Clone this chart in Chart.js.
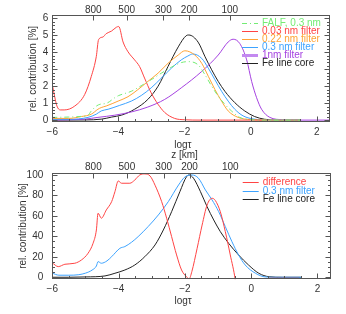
<!DOCTYPE html>
<html>
<head>
<meta charset="utf-8">
<script src="https://cdn.jsdelivr.net/npm/chart.js@4"></script>
<style>
  body { margin: 0; background: #fff; width: 346px; height: 314px; position: relative; overflow: hidden; }
  canvas { position: absolute; left: 0; }
  #top { top: 0; }
  #bot { top: 150px; }
</style>
</head>
<body>
<canvas id="top" width="346" height="152"></canvas>
<canvas id="bot" width="346" height="164"></canvas>
<script>
// axes: log tau along the bottom, height z [km] along the top
const xTicks = [-6, -4, -2, 0, 2];
const zLabels = ['800', '500', '300', '200', '100'];
const zPos = [-4.76, -3.75, -2.64, -1.86, -0.63];
const yTicksTop = [0, 1, 2, 3, 4, 5, 6];
const yTicksBot = [0, 20, 40, 60, 80, 100];

// upper panel, rel. contribution [%]
const falfX = [-6, -5.5, -5.12, -4.92, -4.82, -4.65, -4.56, -4.35, -4.11, -3.99, -3.61, -3.31, -3.01, -2.7, -2.4, -2.1, -1.9, -1.59, -1.38, -1.18, -0.98, -0.78, -0.58, -0.33, 0.03, 0.5, 1.5];
const falfY = [0.16, 0.18, 0.22, 0.29, 0.54, 0.85, 0.93, 1.0, 1.32, 1.45, 1.7, 2.03, 2.38, 2.77, 3.12, 3.39, 3.45, 3.26, 2.67, 2.0, 1.41, 0.93, 0.54, 0.16, 0.02, 0, 0];
const narrowX = [-6, -5.93, -5.86, -5.76, -5.64, -5.32, -5.02, -4.82, -4.67, -4.6, -4.47, -4.37, -4.21, -4.06, -3.99, -3.86, -3.71, -3.51, -3.36, -3.21, -3.01, -2.8, -2.6, -2.3, -2.0, -1.5, -1.0, 0.0, 0.5];
const narrowY = [2.1, 1.4, 0.83, 0.6, 0.6, 0.83, 1.51, 2.58, 3.74, 4.75, 4.9, 5.1, 5.25, 5.48, 5.52, 4.61, 4.03, 3.55, 3.16, 2.48, 1.61, 0.93, 0.45, 0.1, 0.02, 0, 0, 0, 0];
const midX = [-6, -5.5, -5.12, -4.82, -4.62, -4.52, -4.37, -4.01, -3.71, -3.41, -3.11, -2.8, -2.5, -2.19, -1.99, -1.69, -1.48, -1.28, -1.08, -0.88, -0.68, -0.38, 0.0, 0.5, 1.5];
const midY = [0.1, 0.1, 0.21, 0.35, 0.64, 0.74, 0.83, 1.12, 1.38, 1.8, 2.28, 2.77, 3.35, 3.84, 4.09, 3.84, 3.35, 2.58, 1.8, 1.12, 0.54, 0.16, 0.03, 0, 0];
const wideX = [-6, -5.5, -4.92, -4.67, -4.52, -4.31, -3.96, -3.61, -3.31, -3.01, -2.7, -2.4, -2.1, -1.9, -1.75, -1.48, -1.28, -1.08, -0.88, -0.68, -0.48, -0.23, 0.13, 0.5, 1.5];
const wideY = [0.05, 0.05, 0.16, 0.35, 0.54, 0.64, 0.87, 1.12, 1.45, 1.9, 2.48, 3.06, 3.55, 3.78, 3.9, 3.64, 3.06, 2.38, 1.7, 1.12, 0.64, 0.25, 0.05, 0, 0];
const broadX = [-6, -5.5, -5, -4.62, -4.11, -3.61, -3.11, -2.6, -2.1, -1.48, -0.98, -0.68, -0.53, -0.33, -0.12, 0.03, 0.18, 0.33, 0.58, 0.97, 1.3, 2.4];
const broadY = [0, 0.02, 0.06, 0.16, 0.29, 0.48, 0.77, 1.22, 1.9, 2.87, 3.84, 4.61, 4.77, 4.52, 3.55, 2.28, 1.32, 0.64, 0.16, 0.02, 0, 0];
const coreX = [-6, -5, -4.5, -4.2, -3.91, -3.51, -3.11, -2.8, -2.5, -2.19, -1.95, -1.87, -1.59, -1.38, -1.18, -0.98, -0.78, -0.48, -0.18, 0.12, 0.42, 0.82, 1.5];
const coreY = [0, 0.01, 0.06, 0.18, 0.29, 0.64, 1.22, 2.0, 3.16, 4.32, 4.98, 5.02, 4.6, 3.74, 2.97, 2.28, 1.7, 1.03, 0.54, 0.21, 0.05, 0, 0];

// lower panel, normalised to 100
const diffX = [-6, -5.82, -5.62, -5.32, -5.12, -4.92, -4.77, -4.67, -4.62, -4.52, -4.37, -4.21, -4.11, -4.01, -3.91, -3.66, -3.51, -3.36, -3.21, -3.05, -2.9, -2.7, -2.55, -2.4, -2.25, -2.1, -1.95, -1.87, -1.79, -1.63, -1.48, -1.33, -1.18, -1.08, -0.93, -0.78, -0.63, -0.48, -0.4, -0.39, 0.55, 1.45];
const diffY = [14, 10.4, 12.7, 13.7, 16.9, 23.5, 33.2, 46.2, 62.6, 57.7, 65.8, 73.9, 83.7, 94.1, 91.9, 91.9, 95.1, 100, 101, 99, 90, 73.9, 57.7, 39.7, 21.8, 7.1, 0.5, -1.5, 5.5, 28.3, 51, 70.6, 77.2, 75, 64, 44.6, 21.8, -2.6, -25, null, -1, -1];
const wideBX = [-6, -5.8, -5.5, -5.2, -5.0, -4.8, -4.67, -4.62, -4.52, -4.35, -4.21, -3.96, -3.81, -3.61, -3.41, -3.11, -2.8, -2.5, -2.19, -1.99, -1.79, -1.59, -1.38, -1.18, -0.98, -0.78, -0.58, -0.38, -0.18, 0.13, 0.43, 0.8, 1.5];
const wideBY = [4, 2, 2, 2.5, 4, 7, 11, 15.3, 13.7, 16, 20.1, 28.3, 30, 34.2, 39.7, 49.5, 60.9, 73.9, 90.2, 98.3, 100, 96.8, 85.3, 75.6, 64.1, 49.5, 34.8, 21.8, 12, 3.9, 0.3, 0, 0];
const coreBX = [-6, -5.5, -5.0, -4.41, -4.11, -3.81, -3.51, -3.21, -2.9, -2.65, -2.4, -2.15, -1.95, -1.87, -1.74, -1.53, -1.33, -1.13, -0.93, -0.68, -0.38, -0.08, 0.23, 0.54, 0.95, 1.5];
const coreBY = [0, 0, 0.3, 1.3, 3.9, 7.1, 12, 20.1, 31.6, 46.2, 64.1, 83.7, 98.3, 100, 96.8, 83.7, 69, 56, 44.6, 33.2, 21.8, 12, 3.9, 0.5, 0, 0];

const FONT = 'Liberation Sans, Arial, sans-serif';
const INK = '#333';
const pts = (xs, ys) => xs.map((x, i) => ({ x, y: ys[i] }));
const minus = v => v < 0 ? '\u2212' + (-v) : String(v);

function ds(label, xs, ys, color, extra) {
  return Object.assign({ label, data: pts(xs, ys), borderColor: color, backgroundColor: color,
    borderWidth: 1, pointRadius: 0, cubicInterpolationMode: 'monotone', fill: false }, extra || {});
}

function steps(min, max, step) {
  const out = [];
  for (let k = Math.ceil(min / step - 1e-9); k * step <= max + 1e-9; k++) out.push(k * step);
  return out;
}
const isMajor = (v, m) => Math.abs(v / m - Math.round(v / m)) < 1e-6;

// IDL style box: inward ticks on all sides + legend inside the plot
const frame = {
  id: 'frame',
  afterDatasetsDraw(chart, args, o) {
    const { ctx, chartArea: a, scales } = chart;
    const L = Math.round(a.left) + 0.5, R = Math.round(a.right) - 0.5;
    const T = Math.round(a.top) + 0.5, B = Math.round(a.bottom) - 0.5;
    ctx.save();
    ctx.strokeStyle = '#555';
    ctx.lineWidth = 1;
    ctx.setLineDash([]);
    ctx.strokeRect(L, T, R - L, B - T);
    ctx.beginPath();
    steps(scales.x.min, scales.x.max, o.xMinor).forEach(v => {
      const p = Math.round(scales.x.getPixelForValue(v)) + 0.5;
      const len = isMajor(v, o.xMajor) ? 5 : 2.5;
      ctx.moveTo(p, B); ctx.lineTo(p, B - len);
    });
    zPos.forEach(v => {
      const p = Math.round(scales.x2.getPixelForValue(v)) + 0.5;
      ctx.moveTo(p, T); ctx.lineTo(p, T + 5);
    });
    steps(scales.y.min, scales.y.max, o.yMinor).forEach(v => {
      const p = Math.round(scales.y.getPixelForValue(v)) + 0.5;
      const len = isMajor(v, o.yMajor) ? 5 : 2.5;
      ctx.moveTo(L, p); ctx.lineTo(L + len, p);
      ctx.moveTo(R, p); ctx.lineTo(R - len, p);
    });
    ctx.stroke();

    ctx.font = '10px ' + FONT;
    ctx.textBaseline = 'middle';
    chart.data.datasets.forEach((d, i) => {
      const y = Math.round(a.top + o.legTop + i * o.legGap) + 0.5;
      ctx.strokeStyle = d.legendColor || d.borderColor;
      ctx.lineWidth = d.legendWidth || 1;
      ctx.setLineDash(d.borderDash || []);
      ctx.beginPath();
      ctx.moveTo(a.right - 88, y); ctx.lineTo(a.right - 72, y);
      ctx.stroke();
      ctx.fillStyle = d.borderColor;
      ctx.fillText(d.label, a.right - 68, y);
    });
    ctx.restore();
  }
};

function makeChart(id, datasets, cfg) {
  const h = document.getElementById(id).height;
  return new Chart(document.getElementById(id), {
    type: 'line',
    data: { datasets },
    plugins: [frame],
    options: {
      responsive: false, animation: false, devicePixelRatio: 1,
      layout: { padding: { left: 0, right: cfg.padRight, top: 0, bottom: 0 } },
      plugins: { legend: { display: false }, tooltip: { enabled: false }, frame: cfg.frame },
      scales: {
        x: {
          type: 'linear', position: 'bottom', min: -6, max: 2.4,
          grid: { display: false, drawTicks: false }, border: { display: false },
          afterBuildTicks: s => { s.ticks = xTicks.map(value => ({ value })); },
          afterFit: s => { s.height = h - cfg.bottom; },
          ticks: { color: INK, padding: cfg.xPad, autoSkip: false, maxRotation: 0,
            font: { family: FONT, size: 10, lineHeight: 1 }, callback: v => minus(v) },
          title: { display: true, text: 'log\u03c4\u00a0\u00a0\u00a0\u00a0\u00a0\u00a0', color: INK,
            font: { family: FONT, size: 10, lineHeight: 1 }, padding: { top: 0, bottom: cfg.xTitlePad } }
        },
        x2: {
          type: 'linear', position: 'top', min: -6, max: 2.4,
          grid: { display: false, drawTicks: false }, border: { display: false },
          afterBuildTicks: s => { s.ticks = zPos.map(value => ({ value })); },
          afterFit: s => { s.height = cfg.top; },
          ticks: { color: INK, padding: 0, autoSkip: false, maxRotation: 0,
            font: { family: FONT, size: 10, lineHeight: 1 }, callback: (v, i) => zLabels[i] },
          title: { display: cfg.zTitle, text: 'z [km]\u00a0\u00a0\u00a0\u00a0\u00a0', color: INK,
            font: { family: FONT, size: 10, lineHeight: 1 }, padding: { top: 0, bottom: 0 } }
        },
        y: {
          type: 'linear', position: 'left', min: cfg.yMin, max: cfg.yMax,
          grid: { display: false, drawTicks: false }, border: { display: false },
          afterBuildTicks: s => { s.ticks = cfg.yTicks.map(value => ({ value })); },
          afterFit: s => { s.width = cfg.left; },
          ticks: { color: INK, padding: cfg.yPad, font: { family: FONT, size: 10, lineHeight: 1 } },
          title: { display: true, text: 'rel. contribution [%]', color: INK,
            font: { family: FONT, size: 10, lineHeight: 1 }, padding: { top: cfg.yTitlePad, bottom: 0 } }
        }
      }
    }
  });
}

makeChart('top', [
  ds('FALF, 0.3 nm', falfX, falfY, '#74ec74', { borderDash: [5, 3, 1, 3] }),
  ds('0.03 nm filter', narrowX, narrowY, '#ff4444'),
  ds('0.22 nm filter', midX, midY, '#ffa335'),
  ds('0.3 nm filter', wideX, wideY, '#3da3ff'),
  ds('1nm filter', broadX, broadY, '#a542e0', { legendWidth: 3, legendColor: '#c389f0' }),
  ds('Fe line core', coreX, coreY, '#222')
], {
  padRight: 16, top: 15, bottom: 122.3, left: 52.3,
  yMin: -0.13, yMax: 6.2, yTicks: yTicksTop, yPad: 4, yTitlePad: 28,
  xPad: 5, xTitlePad: 2, zTitle: false,
  frame: { xMinor: 0.5, xMajor: 2, yMinor: 0.2, yMajor: 1, legTop: 7.7, legGap: 8 }
});

makeChart('bot', [
  ds('difference', diffX, diffY, '#ff4444'),
  ds('0.3 nm filter', wideBX, wideBY, '#3da3ff'),
  ds('Fe line core', coreBX, coreBY, '#222')
], {
  padRight: 15.3, top: 22.7, bottom: 129.3, left: 52.3,
  yMin: -2, yMax: 102.2, yTicks: yTicksBot, yPad: 9, yTitlePad: 18,
  xPad: 4.5, xTitlePad: 8, zTitle: true,
  frame: { xMinor: 0.5, xMajor: 2, yMinor: 5, yMajor: 20, legTop: 9.6, legGap: 8.3 }
});
</script>
</body>
</html>
